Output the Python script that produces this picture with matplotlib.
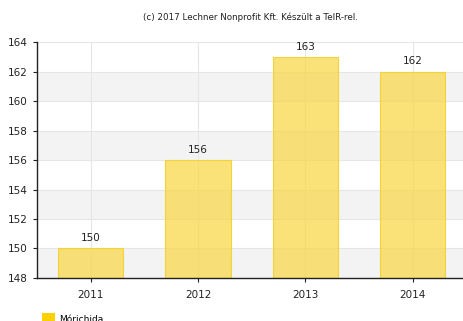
import numpy as np
import matplotlib.pyplot as plt
from matplotlib.patches import Patch

years = ['2011', '2012', '2013', '2014']
values = [150, 156, 163, 162]
series_name = 'Mórichida'
title = '(c) 2017 Lechner Nonprofit Kft. Készült a TeIR-rel.'

fig = plt.figure(figsize=(4.63, 3.21), dpi=100)
ax = fig.add_axes([0.080, 0.134, 0.927, 0.735])

x = np.arange(len(years))
ymin, ymax = 148, 164

# alternating background bands
for i, lo in enumerate(range(ymin, ymax, 2)):
    if i % 2 == 0:
        ax.axhspan(lo, lo + 2, color='#f3f3f3', zorder=0, lw=0)
for v in range(ymin, ymax + 1, 2):
    ax.axhline(v, color='#e6e6e6', lw=0.8, zorder=0.5)
for xi in x:
    ax.axvline(xi, color='#e6e6e6', lw=0.8, zorder=0.5)

bars = ax.bar(x, np.array(values) - ymin, bottom=ymin, width=0.61,
              color=(0.976, 0.84, 0.255, 0.7), edgecolor='#f3d23c', lw=0.8, zorder=2)
for xi, v in zip(x, values):
    ax.text(xi, v + 0.35, str(v), ha='center', va='bottom', fontsize=7.5, color='#222222')

ax.set_xlim(-0.5, 3.5)
ax.set_ylim(ymin, ymax)
ax.set_xticks(x)
ax.set_xticklabels(years)
ax.set_yticks(range(ymin, ymax + 1, 2))
ax.tick_params(axis='both', labelsize=7.5, colors='#222222', length=3, width=0.8)
ax.tick_params(axis='x', length=3, pad=6)
for s in ['top', 'right']:
    ax.spines[s].set_visible(False)
for s in ['left', 'bottom']:
    ax.spines[s].set_color('#222222')
    ax.spines[s].set_linewidth(1.0)

fig.text(0.54, 0.945, title, ha='center', va='center', fontsize=6.3, color='#222222')

fig.legend(handles=[Patch(facecolor='#fdd100', edgecolor='none')], labels=[series_name],
           loc='upper left', bbox_to_anchor=(0.090, 0.025), frameon=False,
           fontsize=6.5, handlelength=1.5, handleheight=1.6, handletextpad=0.45,
           borderaxespad=0, borderpad=0)

fig.savefig('out.png', dpi=100)
